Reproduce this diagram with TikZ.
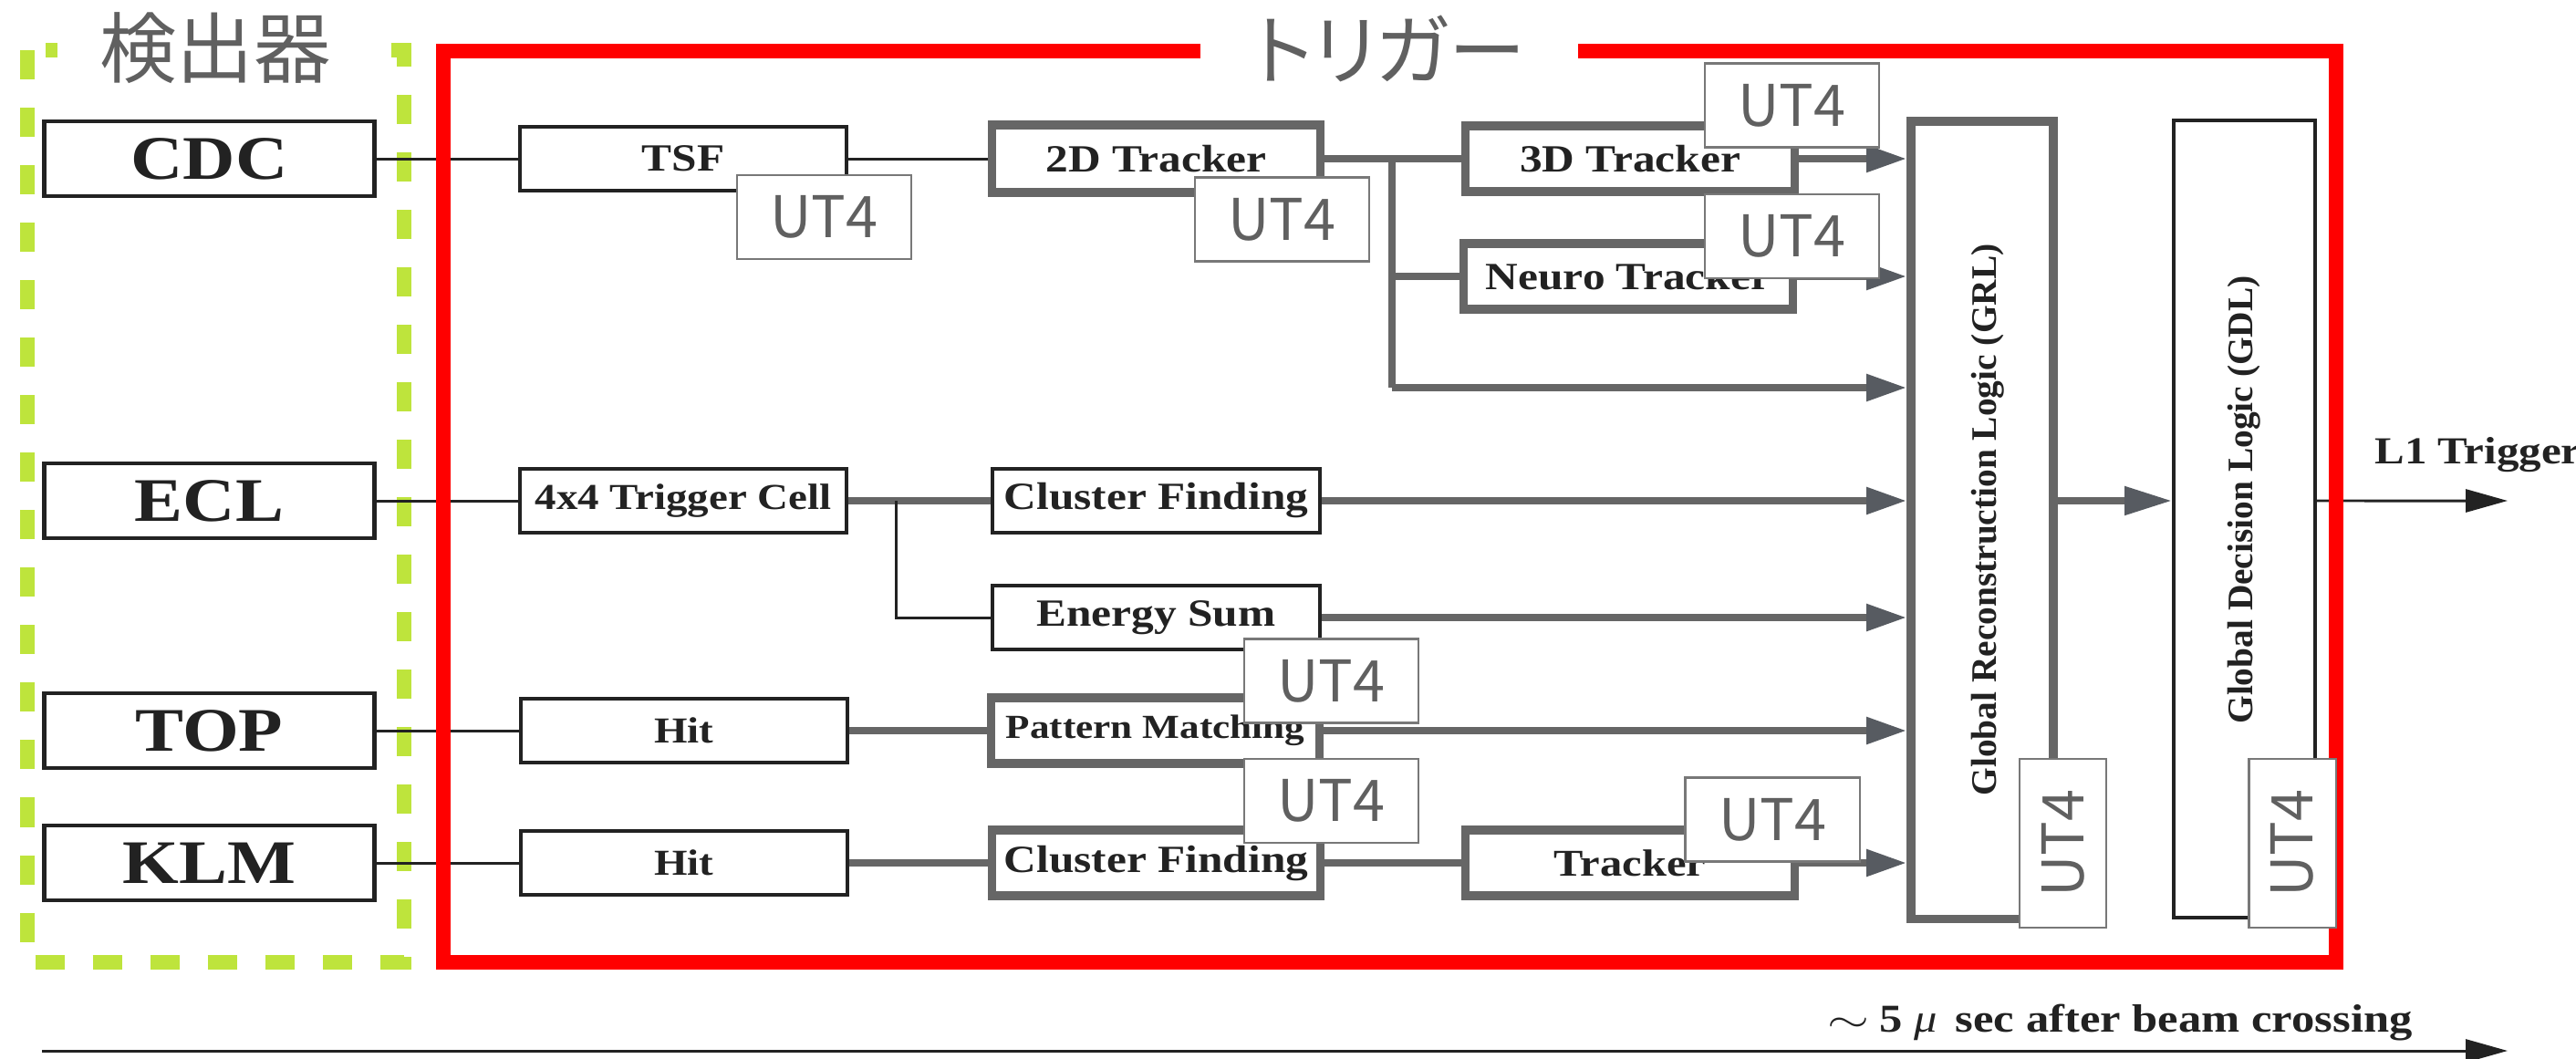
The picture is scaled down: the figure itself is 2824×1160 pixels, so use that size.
\documentclass[tikz,border=0pt]{standalone}
\usepackage{fontspec}
\setmainfont{Liberation Serif}[FakeStretch=1.17]
\newfontfamily\plainserif{Liberation Serif}
\newfontfamily\jpfont{Noto Sans CJK JP}
\usetikzlibrary{arrows.meta}
\definecolor{boxgray}{HTML}{666666}
\definecolor{tipgray}{HTML}{575B61}
\definecolor{inkdark}{HTML}{222222}
\definecolor{utgray}{HTML}{606060}
\definecolor{framered}{HTML}{FF0000}
\definecolor{framegreen}{RGB}{190,228,60}
\tikzset{
      detbox/.style={
        draw=inkdark,
        line width=1.3pt,
        fill=white,
        text=inkdark,
        minimum width=3.62cm,
        minimum height=0.82cm,
        inner sep=0pt,
        font=\fontsize{19.3}{22}\selectfont\bfseries
      },
      procbox/.style={
        draw=inkdark,
        line width=1.1pt,
        fill=white,
        text=inkdark,
        minimum width=3.58cm,
        minimum height=0.70cm,
        inner sep=0pt,
        font=\fontsize{12}{14}\selectfont\bfseries
      },
      trkbox/.style={
        draw=boxgray,
        line width=2.6pt,
        fill=white,
        text=inkdark,
        minimum width=3.60cm,
        minimum height=0.72cm,
        inner sep=0pt,
        font=\fontsize{12}{14}\selectfont\bfseries
      },
      logicbox/.style={
        fill=white,
        text=inkdark,
        inner sep=0pt,
        font=\plainserif\fontsize{11.2}{13}\selectfont\bfseries
      },
      utbox/.style={
        draw=utgray!85,
        line width=0.6pt,
        fill=white,
        text=utgray,
        minimum width=1.91cm,
        minimum height=0.92cm,
        inner sep=0pt,
        font=\jpfont\fontsize{17.9}{20}\selectfont
      },
      utvbox/.style={
        utbox,
        minimum width=0.95cm,
        minimum height=1.85cm
      },
      jplabel/.style={
        fill=white,
        text=utgray,
        inner sep=2pt,
        font=\jpfont\fontsize{24}{26}\selectfont
      },
      thinlink/.style={draw=inkdark, line width=0.85pt},
      graylink/.style={draw=boxgray, line width=2.3pt},
      grayarrow/.style={graylink, -{Triangle[length=4.4mm, width=2.8mm, color=tipgray]}},
      blackarrow/.style={thinlink, -{Triangle[length=4.6mm, width=2.5mm, color=inkdark]}}
    }

\begin{document}
\begin{tikzpicture}[x=0.01cm,y=-0.01cm]
    \useasboundingbox (0,0) rectangle (2824,1160);
    \draw[draw=framegreen, line width=4.3pt, dash pattern=on 0.32cm off 0.31cm] (30,55) rectangle (443,1055);

    % detectors
    \node[detbox] (CDC) at (229.5,174) {CDC};
    \node[detbox] (ECL) at (229.5,549) {ECL};
    \node[detbox] (TOP) at (229.5,801) {TOP};
    \node[detbox] (KLM) at (229.5,946) {KLM};

    % trigger chain
    \node[procbox] (TSF) at (749,174) {TSF};
    \node[procbox, font=\fontsize{11.4}{13}\selectfont\bfseries] (TC) at (749,549) {4x4 Trigger Cell};
    \node[procbox, font=\fontsize{11.4}{13}\selectfont\bfseries] (TOPhit) at (750,801) {Hit};
    \node[procbox, font=\fontsize{11.4}{13}\selectfont\bfseries] (KLMhit) at (750,946) {Hit};

    \node[trkbox, minimum height=0.74cm] (D2) at (1267.5,174) {2D Tracker};
    \node[procbox, minimum width=3.59cm] (ECLcf) at (1267.5,549) {Cluster Finding};
    \node[procbox, minimum width=3.59cm] (ESum) at (1267.5,677) {Energy Sum};
    \node[trkbox, font=\fontsize{10.5}{12}\selectfont\bfseries] (PM) at (1266.5,801) {Pattern Matching};
    \node[trkbox] (KLMcf) at (1267.5,946) {Cluster Finding};

    \node[trkbox] (D3) at (1787,174) {3D Tracker};
    \node[trkbox] (Neuro) at (1785,303) {Neuro Tracker};
    \node[trkbox, font=\fontsize{11.8}{13}\selectfont\bfseries] (KLMtrk) at (1787,946) {Tracker};

    \node[logicbox, draw=boxgray, line width=2.7pt, minimum width=1.56cm, minimum height=8.74cm] (GRL) at (2173,570) {\hspace{0.12cm}\rotatebox{90}{Global Reconstruction Logic (GRL)}};
    \node[logicbox, draw=inkdark, line width=1.1pt, minimum width=1.55cm, minimum height=8.73cm] (GDL) at (2460.5,569) {\rotatebox{90}{\hspace{0.42cm}Global Decision Logic (GDL)}};

    \coordinate (trkSplit) at (1526,174);
    \coordinate (trkLow) at (1526,425);
    \coordinate (eclSplit) at (982,549);
    \coordinate (l1End) at (2749,549);
    \coordinate (tStart) at (46,1152);
    \coordinate (tEnd) at (2749,1152);

    \draw[thinlink] (CDC.east) -- (TSF.west);
    \draw[thinlink] (TSF.east) -- (D2.west);
    \draw[graylink] (D2.east) -- (D3.west);
    \draw[graylink] (trkSplit) -- (trkLow);
    \draw[graylink] (trkSplit |- Neuro.west) -- (Neuro.west);
    \draw[grayarrow] (trkLow) -- (trkLow -| GRL.west);
    \draw[grayarrow] (D3.east) -- (D3.east -| GRL.west);
    \draw[grayarrow] (Neuro.east) -- (Neuro.east -| GRL.west);

    \draw[thinlink] (ECL.east) -- (TC.west);
    \draw[graylink] (TC.east) -- (ECLcf.west);
    \draw[thinlink] (eclSplit) |- (ESum.west);
    \draw[grayarrow] (ECLcf.east) -- (ECLcf.east -| GRL.west);
    \draw[grayarrow] (ESum.east) -- (ESum.east -| GRL.west);

    \draw[thinlink] (TOP.east) -- (TOPhit.west);
    \draw[graylink] (TOPhit.east) -- (PM.west);
    \draw[grayarrow] (PM.east) -- (PM.east -| GRL.west);

    \draw[thinlink] (KLM.east) -- (KLMhit.west);
    \draw[graylink] (KLMhit.east) -- (KLMcf.west);
    \draw[graylink] (KLMcf.east) -- (KLMtrk.west);
    \draw[grayarrow] (KLMtrk.east) -- (KLMtrk.east -| GRL.west);

    \draw[graylink, -{Triangle[length=5.2mm, width=3.0mm, color=tipgray]}] ([yshift=2.1mm]GRL.east) coordinate (grlOut) -- (grlOut -| GDL.west);
    \draw[blackarrow] (grlOut -| GDL.east) -- (l1End);
    \node[anchor=base west, text=inkdark, font=\fontsize{11.9}{13}\selectfont\bfseries] (l1lbl) at (2591,508) {L1 Trigger};

    \draw[draw=framered, line width=4.55pt] (486,56) rectangle (2561,1055);

    % UT4 tags
    \node[utbox] (utTSF) at (903.5,238) {UT4};
    \node[utbox] (utD2) at (1405.5,240.5) {UT4};
    \node[utbox] (utD3) at (1964.5,115.5) {UT4};
    \node[utbox] (utNeuro) at (1964.5,259) {UT4};
    \node[utbox] (utPM) at (1459.5,746.5) {UT4};
    \node[utbox] (utCF) at (1459.5,878) {UT4};
    \node[utbox] (utTrk) at (1943,898.5) {UT4};
    \node[utvbox] (utGRL) at (2261.5,924.5) {\rotatebox{90}{UT4}};
    \node[utvbox] (utGDL) at (2513,924.5) {\rotatebox{90}{UT4}};

    \node[jplabel, minimum width=3.46cm] (detlbl) at (236,53) {検出器};
    \node[jplabel, minimum width=4.13cm] (trglbl) at (1523,53) {\addfontfeature{RawFeature=+palt}トリガー};

    \draw[blackarrow] (tStart) -- (tEnd);
    \node[anchor=base east, text=inkdark, font=\fontsize{12.3}{14}\selectfont\bfseries] (tlbl) at (2657,1131) {\scalebox{1.4}[1]{$\sim$}\hspace{0.11cm}5\hspace{0.13cm}{\mdseries\itshape μ}\hspace{0.2cm}sec after beam crossing};
    \end{tikzpicture}
\end{document}
